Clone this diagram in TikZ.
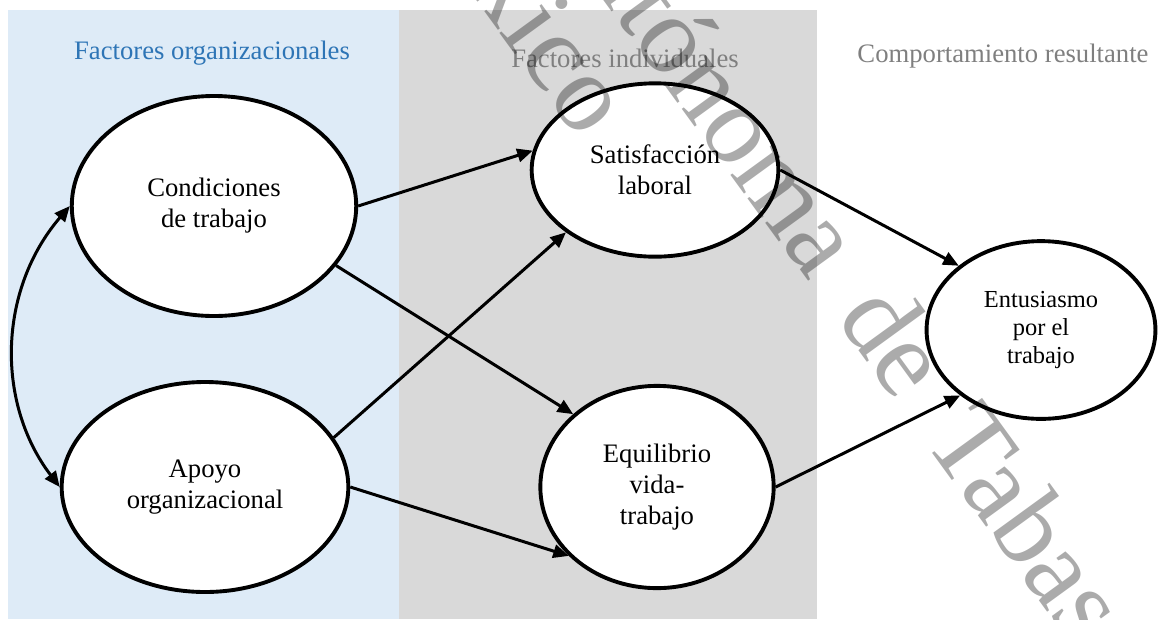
\documentclass[tikz,border=0pt]{standalone}
\usepackage{fontspec}
\setmainfont{Liberation Serif}
\usepackage{tikz}
\usetikzlibrary{shapes.geometric}
\usetikzlibrary{arrows.meta}

\definecolor{orgblue}{HTML}{DEEBF7}
\definecolor{indgray}{HTML}{D9D9D9}
\definecolor{titleblue}{HTML}{2E75B6}
\definecolor{titlegray}{HTML}{7F7F7F}

\begin{document}
\begin{tikzpicture}[x=0.45pt,y=-0.45pt,>={Triangle[length=7pt,width=6pt]}]
    \tikzstyle{every node}=[font=\fontsize{12}{14}\selectfont]
    \tikzstyle{factor}=[ellipse,draw,line width=1.75pt,fill=white,inner sep=0pt,align=center]
    \tikzstyle{link}=[line width=1.35pt,->]
    \tikzstyle{watermark}=[anchor=base west,rotate=-54,inner sep=0pt,text=black,text opacity=0.33,font=\fontsize{50}{50}\selectfont]

    \useasboundingbox (0,0) rectangle (1158,619);

    % background columns
    \fill[orgblue] (8,10) rectangle (399,619);
    \fill[indgray] (399,10) rectangle (817,619);

    % column titles
    \node[anchor=base,text=titleblue] (title-org) at (212,59) {Factores organizacionales};
    \node[anchor=base,text=titlegray] (title-ind) at (625,67) {Factores individuales};
    \node[anchor=base,text=titlegray] (title-res) at (1003,62) {Comportamiento resultante};

    % factors
    \node[factor,minimum width=128pt,minimum height=99pt] (cond) at (214,206) {Condiciones\\de trabajo};
    \node[factor,minimum width=129pt,minimum height=94.5pt] (apoyo) at (205,487) {Apoyo\\organizacional};
    \node[factor,minimum width=111pt,minimum height=78pt] (sat) at (655,170) {Satisfacción\\laboral};
    \node[factor,minimum width=105pt,minimum height=91pt] (equi) at (657,487) {Equilibrio\\vida-\\trabajo};
    \node[factor,minimum width=103pt,minimum height=80pt,font=\fontsize{11}{12.6}\selectfont] (entu) at (1041,330) {Entusiasmo\\por el\\trabajo};

    % paths
    \draw[link] (cond.0) -- (sat.171);
    \draw[link] (cond.-26) -- (equi.139);
    \draw[link] (apoyo.21) -- (sat.215);
    \draw[link] (apoyo.0) -- (equi.218);
    \draw[link] (sat.0) -- (entu.142);
    \draw[link] (equi.0) -- (entu.219);
    % correlation
    \draw[link,<->] (cond.180) .. controls +(-72,84) and +(-64,-84) .. (apoyo.180);

    % watermark
    \begin{scope}
      \clip (0,0) rectangle (1158,619);
      \node[watermark] (wm-name) at (533,-97) {Autónoma\hspace{0.4em}de\hspace{0.4em}Tabasco};
      \node[watermark] (wm-country) at (379,-134) {México};
    \end{scope}
\end{tikzpicture}
\end{document}
